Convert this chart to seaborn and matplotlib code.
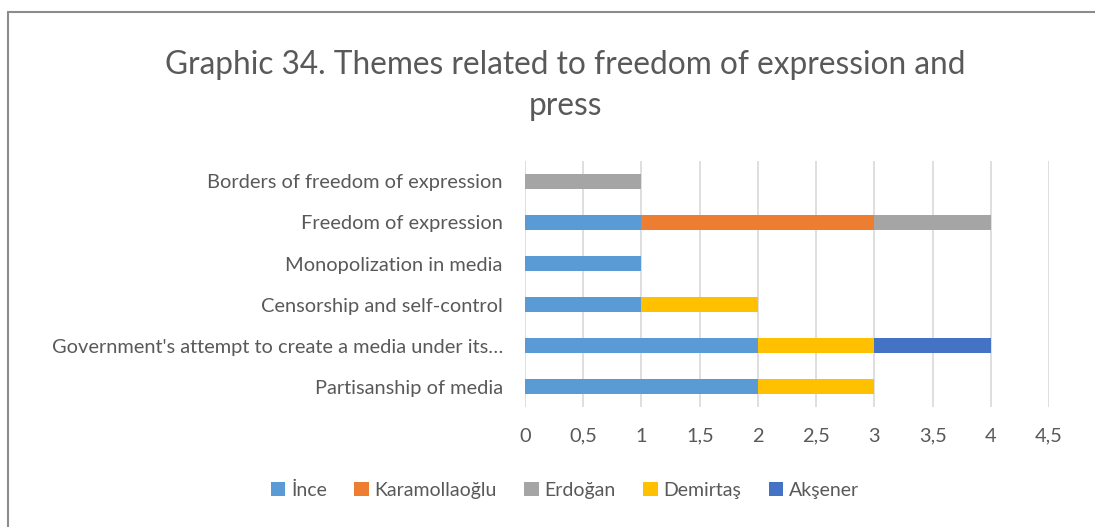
import numpy as np
import pandas as pd
import matplotlib
matplotlib.use("Agg")
import matplotlib.pyplot as plt
from matplotlib.lines import Line2D
from matplotlib.patches import Patch
from matplotlib.ticker import FuncFormatter, MultipleLocator
import seaborn as sns

# data (top to bottom as in the chart)
themes = ["Borders of freedom of expression",
          "Freedom of expression",
          "Monopolization in media",
          "Censorship and self-control",
          "Government's attempt to create a media under its\u2026",
          "Partisanship of media"]
ince = [0, 1, 1, 1, 2, 2]
karamollaoglu = [0, 2, 0, 0, 0, 0]
erdogan = [1, 1, 0, 0, 0, 0]
demirtas = [0, 0, 0, 1, 1, 1]
aksener = [0, 0, 0, 0, 1, 0]

names = ["İnce", "Karamollaoğlu", "Erdoğan", "Demirtaş", "Akşener"]
colors = ["#5B9BD5", "#ED7D31", "#A5A5A5", "#FFC000", "#4472C4"]

df = pd.DataFrame({"theme": themes, "İnce": ince, "Karamollaoğlu": karamollaoglu,
                   "Erdoğan": erdogan, "Demirtaş": demirtas, "Akşener": aksener})
cum = df[names].cumsum(axis=1)

sns.set_style("white")
plt.rcParams['font.family'] = ['Lato', 'DejaVu Sans']
txt = "#595959"

fig = plt.figure(figsize=(10.95, 5.27), dpi=100)
ax = fig.add_axes([0.4795, 0.2277, 0.4785, 0.4668])

# stacked bars: draw cumulative totals from the back
for name, col in reversed(list(zip(names, colors))):
    sns.barplot(x=cum[name], y=df["theme"], orient="h", color=col,
                width=0.36, ax=ax, saturation=1, linewidth=0)

ax.set_xlim(0, 4.5)
ax.xaxis.set_major_locator(MultipleLocator(0.5))
ax.xaxis.set_major_formatter(FuncFormatter(lambda v, p: ("%g" % v).replace(".", ",")))
ax.grid(axis="x", color="#D9D9D9", linewidth=1.2)
ax.set_axisbelow(True)
sns.despine(ax=ax, left=True, bottom=True)
ax.set_xlabel("")
ax.set_ylabel("")
ax.tick_params(axis="both", length=0, colors=txt, labelsize=14.4)
ax.tick_params(axis="y", pad=16)
ax.tick_params(axis="x", pad=15)

fig.text(0.516, 0.876, "Graphic 34. Themes related to freedom of expression and",
         ha="center", va="center", fontsize=22.8, color=txt)
fig.text(0.516, 0.799, "press", ha="center", va="center", fontsize=22.8, color=txt)

handles = [Patch(facecolor=c, edgecolor="none") for c in colors]
fig.legend(handles, names, loc="center", bbox_to_anchor=(0.516, 0.07), ncol=5,
           frameon=False, fontsize=14, labelcolor=txt, handlelength=0.75,
           handleheight=0.75, handletextpad=0.3, columnspacing=1.4)

# outer frame (left and top edges visible)
fig.add_artist(Line2D([0.0073, 0.0073], [0, 0.977], color="#8C8C8C", lw=1.5,
                      transform=fig.transFigure))
fig.add_artist(Line2D([0.0073, 1.0], [0.977, 0.977], color="#8C8C8C", lw=1.5,
                      transform=fig.transFigure))

fig.savefig("out.png", dpi=100)
